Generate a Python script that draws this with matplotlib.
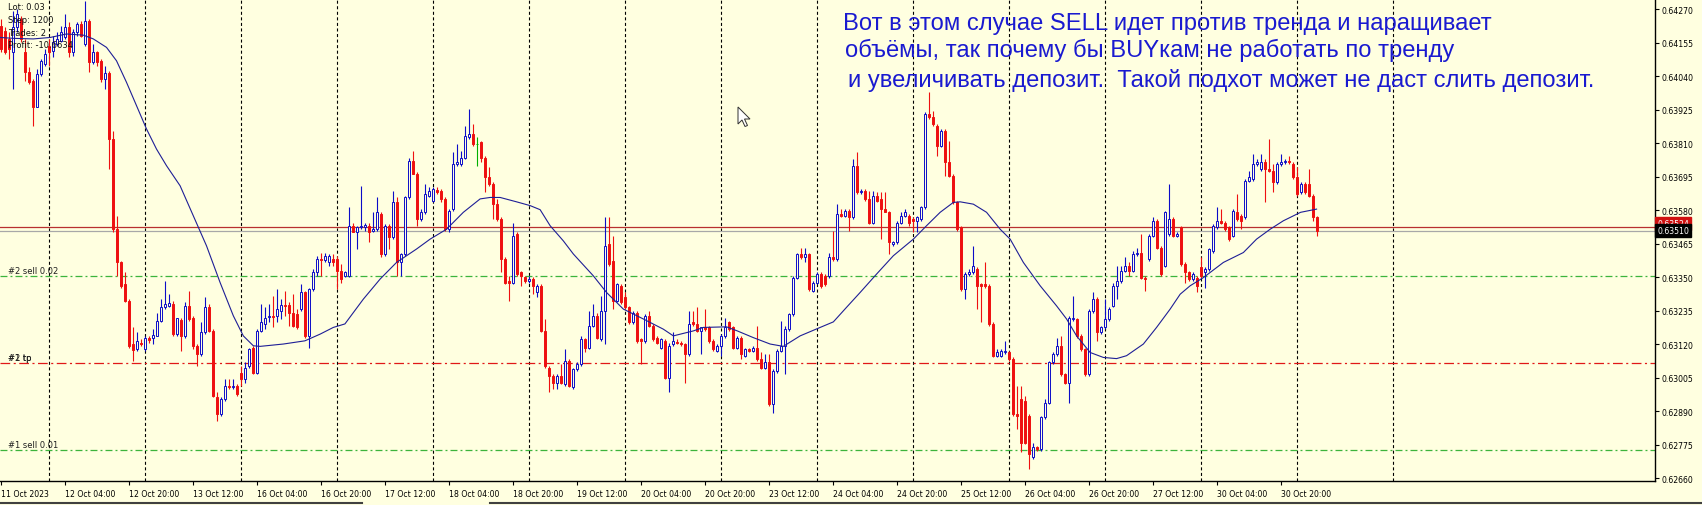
import matplotlib
matplotlib.use("Agg")
import matplotlib.pyplot as plt
from matplotlib.lines import Line2D
from matplotlib.patches import Polygon
import numpy as np

# --- H1 bars, 11 Oct 2023 12:00 .. 31 Oct 05:00 (bar index = position) ---
opens = [
    0.64213, 0.64196, 0.64168, 0.64122, 0.64208, 0.64236, 0.64122, 0.64053, 0.64025, 0.63936,
    0.64048, 0.64082, 0.64145, 0.64128, 0.64151, 0.64162, 0.64173, 0.64208, 0.64122, 0.64191,
    0.64219, 0.64151, 0.64231, 0.64088, 0.64122, 0.64093, 0.64030, 0.64051, 0.63824, 0.63515,
    0.63401, 0.63327, 0.63269, 0.63121, 0.63103, 0.63126, 0.63103, 0.63140, 0.63143, 0.63149,
    0.63201, 0.63247, 0.63252, 0.63258, 0.63155, 0.63204, 0.63149, 0.63252, 0.63212, 0.63115,
    0.63086, 0.63161, 0.63247, 0.63166, 0.62938, 0.62880, 0.62932, 0.62978, 0.62972, 0.62978,
    0.63023, 0.63000, 0.63046, 0.63109, 0.63023, 0.63166, 0.63190, 0.63215, 0.63218, 0.63218,
    0.63235, 0.63255, 0.63255, 0.63229, 0.63224, 0.63241, 0.63298, 0.63149, 0.63309, 0.63367,
    0.63412, 0.63410, 0.63401, 0.63412, 0.63412, 0.63372, 0.63355, 0.63355, 0.63527, 0.63504,
    0.63521, 0.63521, 0.63527, 0.63510, 0.63515, 0.63567, 0.63430, 0.63527, 0.63487, 0.63607,
    0.63401, 0.63430, 0.63624, 0.63750, 0.63704, 0.63550, 0.63573, 0.63630, 0.63613, 0.63650,
    0.63647, 0.63619, 0.63515, 0.63584, 0.63739, 0.63739, 0.63761, 0.63830, 0.63842, 0.63807,
    0.63813, 0.63761, 0.63693, 0.63670, 0.63601, 0.63550, 0.63412, 0.63338, 0.63332, 0.63498,
    0.63367, 0.63350, 0.63338, 0.63344, 0.63298, 0.63321, 0.63166, 0.63040, 0.63012, 0.62989,
    0.63012, 0.62984, 0.63063, 0.62972, 0.63035, 0.63052, 0.63138, 0.63109, 0.63184, 0.63218,
    0.63138, 0.63235, 0.63464, 0.63407, 0.63269, 0.63321, 0.63281, 0.63247, 0.63195, 0.63229,
    0.63138, 0.63132, 0.63218, 0.63184, 0.63143, 0.63109, 0.63132, 0.63006, 0.63121, 0.63129,
    0.63126, 0.63121, 0.63086, 0.63195, 0.63190, 0.63166, 0.63178, 0.63178, 0.63132, 0.63098,
    0.63115, 0.63149, 0.63195, 0.63178, 0.63109, 0.63143, 0.63081, 0.63103, 0.63098, 0.63109,
    0.63069, 0.63040, 0.63058, 0.62915, 0.63029, 0.63098, 0.63115, 0.63172, 0.63224, 0.63349,
    0.63430, 0.63418, 0.63430, 0.63304, 0.63332, 0.63361, 0.63355, 0.63355, 0.63418, 0.63412,
    0.63567, 0.63561, 0.63578, 0.63556, 0.63733, 0.63641, 0.63647, 0.63619, 0.63538, 0.63630,
    0.63619, 0.63584, 0.63573, 0.63464, 0.63470, 0.63538, 0.63561, 0.63561, 0.63550, 0.63544,
    0.63550, 0.63590, 0.63910, 0.63899, 0.63870, 0.63802, 0.63853, 0.63744, 0.63699, 0.63607,
    0.63521, 0.63309, 0.63361, 0.63367, 0.63378, 0.63327, 0.63327, 0.63321, 0.63190, 0.63081,
    0.63081, 0.63092, 0.63092, 0.63069, 0.62880, 0.62932, 0.62926, 0.62875, 0.62732, 0.62766,
    0.62760, 0.62869, 0.62920, 0.63058, 0.63086, 0.63115, 0.63018, 0.62989, 0.63206, 0.63206,
    0.63149, 0.63103, 0.63018, 0.63235, 0.63275, 0.63161, 0.63178, 0.63206, 0.63252, 0.63321,
    0.63338, 0.63372, 0.63390, 0.63372, 0.63430, 0.63435, 0.63349, 0.63412, 0.63493, 0.63544,
    0.63452, 0.63390, 0.63498, 0.63550, 0.63493, 0.63521, 0.63395, 0.63367, 0.63344, 0.63349,
    0.63384, 0.63367, 0.63378, 0.63441, 0.63521, 0.63544, 0.63538, 0.63521, 0.63493, 0.63573,
    0.63561, 0.63556, 0.63681, 0.63687, 0.63739, 0.63721, 0.63744, 0.63721, 0.63716, 0.63676,
    0.63739, 0.63744, 0.63750, 0.63739, 0.63693, 0.63641, 0.63670, 0.63670, 0.63630, 0.63556,
]
highs = [
    0.64236, 0.64208, 0.64191, 0.64265, 0.64271, 0.64248, 0.64168, 0.64070, 0.64030, 0.64065,
    0.64099, 0.64133, 0.64168, 0.64179, 0.64191, 0.64214, 0.64254, 0.64225, 0.64202, 0.64225,
    0.64231, 0.64299, 0.64236, 0.64151, 0.64128, 0.64099, 0.64076, 0.64059, 0.63853, 0.63561,
    0.63407, 0.63367, 0.63275, 0.63178, 0.63161, 0.63138, 0.63149, 0.63149, 0.63172, 0.63229,
    0.63275, 0.63338, 0.63292, 0.63269, 0.63212, 0.63212, 0.63264, 0.63304, 0.63218, 0.63121,
    0.63195, 0.63281, 0.63258, 0.63172, 0.62955, 0.62938, 0.63000, 0.63000, 0.63000, 0.62984,
    0.63046, 0.63058, 0.63109, 0.63115, 0.63172, 0.63258, 0.63247, 0.63258, 0.63287, 0.63309,
    0.63275, 0.63304, 0.63264, 0.63292, 0.63241, 0.63327, 0.63304, 0.63315, 0.63378, 0.63424,
    0.63435, 0.63435, 0.63429, 0.63429, 0.63424, 0.63395, 0.63372, 0.63590, 0.63538, 0.63527,
    0.63664, 0.63538, 0.63538, 0.63573, 0.63624, 0.63573, 0.63533, 0.63533, 0.63647, 0.63624,
    0.63435, 0.63630, 0.63761, 0.63784, 0.63710, 0.63584, 0.63670, 0.63659, 0.63659, 0.63659,
    0.63653, 0.63624, 0.63584, 0.63779, 0.63807, 0.63784, 0.63870, 0.63927, 0.63876, 0.63830,
    0.63819, 0.63767, 0.63727, 0.63676, 0.63619, 0.63556, 0.63418, 0.63355, 0.63538, 0.63504,
    0.63372, 0.63355, 0.63355, 0.63350, 0.63327, 0.63327, 0.63206, 0.63046, 0.63018, 0.63018,
    0.63052, 0.63103, 0.63069, 0.63040, 0.63058, 0.63149, 0.63143, 0.63235, 0.63258, 0.63229,
    0.63287, 0.63556, 0.63556, 0.63493, 0.63332, 0.63327, 0.63298, 0.63252, 0.63235, 0.63235,
    0.63143, 0.63224, 0.63235, 0.63189, 0.63149, 0.63143, 0.63138, 0.63126, 0.63161, 0.63138,
    0.63132, 0.63126, 0.63235, 0.63235, 0.63247, 0.63178, 0.63241, 0.63184, 0.63138, 0.63121,
    0.63155, 0.63212, 0.63201, 0.63184, 0.63149, 0.63149, 0.63109, 0.63109, 0.63115, 0.63184,
    0.63092, 0.63086, 0.63086, 0.63035, 0.63103, 0.63201, 0.63184, 0.63229, 0.63355, 0.63435,
    0.63452, 0.63452, 0.63435, 0.63338, 0.63367, 0.63367, 0.63361, 0.63435, 0.63510, 0.63601,
    0.63584, 0.63584, 0.63584, 0.63756, 0.63779, 0.63653, 0.63653, 0.63647, 0.63647, 0.63641,
    0.63641, 0.63641, 0.63578, 0.63475, 0.63544, 0.63573, 0.63584, 0.63567, 0.63556, 0.63561,
    0.63596, 0.63916, 0.63985, 0.63922, 0.63876, 0.63859, 0.63859, 0.63819, 0.63704, 0.63613,
    0.63527, 0.63367, 0.63378, 0.63458, 0.63384, 0.63332, 0.63401, 0.63327, 0.63195, 0.63103,
    0.63103, 0.63132, 0.63098, 0.63075, 0.62978, 0.62978, 0.62943, 0.62880, 0.62783, 0.62772,
    0.62875, 0.62932, 0.63063, 0.63092, 0.63143, 0.63149, 0.63023, 0.63218, 0.63287, 0.63212,
    0.63155, 0.63109, 0.63241, 0.63298, 0.63281, 0.63184, 0.63275, 0.63247, 0.63332, 0.63390,
    0.63390, 0.63418, 0.63401, 0.63441, 0.63452, 0.63498, 0.63355, 0.63498, 0.63556, 0.63550,
    0.63458, 0.63578, 0.63670, 0.63556, 0.63504, 0.63527, 0.63401, 0.63372, 0.63367, 0.63355,
    0.63418, 0.63384, 0.63452, 0.63533, 0.63590, 0.63584, 0.63544, 0.63527, 0.63584, 0.63636,
    0.63567, 0.63687, 0.63716, 0.63773, 0.63756, 0.63773, 0.63756, 0.63824, 0.63739, 0.63744,
    0.63773, 0.63756, 0.63767, 0.63744, 0.63727, 0.63676, 0.63676, 0.63721, 0.63636, 0.63561,
]
lows = [
    0.64122, 0.64116, 0.64099, 0.63996, 0.64191, 0.64156, 0.64025, 0.64013, 0.63870, 0.63933,
    0.64042, 0.64076, 0.64076, 0.64105, 0.64145, 0.64156, 0.64168, 0.64105, 0.64110, 0.64179,
    0.64173, 0.64145, 0.64053, 0.64082, 0.64076, 0.64019, 0.63996, 0.63721, 0.63504, 0.63355,
    0.63315, 0.63264, 0.63109, 0.63063, 0.63098, 0.63115, 0.63098, 0.63126, 0.63121, 0.63147,
    0.63195, 0.63241, 0.63247, 0.63149, 0.63149, 0.63098, 0.63143, 0.63201, 0.63103, 0.63046,
    0.63081, 0.63155, 0.63161, 0.62938, 0.62857, 0.62875, 0.62926, 0.62966, 0.62966, 0.62943,
    0.62978, 0.62989, 0.63040, 0.63018, 0.63018, 0.63161, 0.63172, 0.63195, 0.63178, 0.63195,
    0.63206, 0.63218, 0.63184, 0.63178, 0.63172, 0.63235, 0.63143, 0.63109, 0.63304, 0.63355,
    0.63355, 0.63401, 0.63390, 0.63390, 0.63309, 0.63332, 0.63350, 0.63350, 0.63504, 0.63447,
    0.63515, 0.63510, 0.63470, 0.63504, 0.63510, 0.63418, 0.63424, 0.63447, 0.63481, 0.63355,
    0.63355, 0.63424, 0.63619, 0.63704, 0.63527, 0.63544, 0.63567, 0.63624, 0.63607, 0.63636,
    0.63607, 0.63510, 0.63504, 0.63578, 0.63733, 0.63733, 0.63756, 0.63825, 0.63802, 0.63733,
    0.63744, 0.63641, 0.63664, 0.63550, 0.63544, 0.63367, 0.63327, 0.63269, 0.63327, 0.63355,
    0.63321, 0.63332, 0.63332, 0.63292, 0.63281, 0.63161, 0.63040, 0.62955, 0.62966, 0.62966,
    0.62984, 0.62978, 0.62972, 0.62966, 0.63029, 0.63046, 0.63092, 0.63103, 0.63178, 0.63138,
    0.63132, 0.63121, 0.63390, 0.63241, 0.63264, 0.63258, 0.63241, 0.63189, 0.63189, 0.63126,
    0.63052, 0.63126, 0.63178, 0.63132, 0.63121, 0.63103, 0.63000, 0.62955, 0.63115, 0.63121,
    0.63115, 0.62989, 0.63081, 0.63184, 0.63161, 0.63086, 0.63166, 0.63126, 0.63098, 0.63092,
    0.63081, 0.63143, 0.63166, 0.63103, 0.63103, 0.63069, 0.63075, 0.63092, 0.63092, 0.63063,
    0.63035, 0.63035, 0.62909, 0.62886, 0.63023, 0.63092, 0.63018, 0.63166, 0.63218, 0.63344,
    0.63412, 0.63401, 0.63304, 0.63298, 0.63327, 0.63315, 0.63321, 0.63349, 0.63407, 0.63407,
    0.63556, 0.63556, 0.63510, 0.63550, 0.63636, 0.63636, 0.63613, 0.63532, 0.63532, 0.63607,
    0.63481, 0.63573, 0.63430, 0.63458, 0.63464, 0.63532, 0.63556, 0.63527, 0.63504, 0.63504,
    0.63544, 0.63584, 0.63893, 0.63870, 0.63767, 0.63796, 0.63699, 0.63693, 0.63601, 0.63510,
    0.63304, 0.63275, 0.63355, 0.63361, 0.63241, 0.63195, 0.63315, 0.63184, 0.63075, 0.63075,
    0.63075, 0.63086, 0.63063, 0.62875, 0.62829, 0.62749, 0.62777, 0.62692, 0.62726, 0.62755,
    0.62755, 0.62863, 0.62915, 0.63052, 0.63081, 0.63012, 0.62984, 0.62920, 0.63201, 0.63143,
    0.63098, 0.63012, 0.63012, 0.63229, 0.63132, 0.63155, 0.63172, 0.63201, 0.63247, 0.63275,
    0.63332, 0.63367, 0.63355, 0.63367, 0.63424, 0.63344, 0.63304, 0.63407, 0.63487, 0.63447,
    0.63355, 0.63384, 0.63493, 0.63487, 0.63487, 0.63390, 0.63332, 0.63338, 0.63338, 0.63298,
    0.63349, 0.63315, 0.63372, 0.63435, 0.63515, 0.63532, 0.63510, 0.63475, 0.63487, 0.63544,
    0.63515, 0.63550, 0.63676, 0.63681, 0.63733, 0.63716, 0.63607, 0.63710, 0.63641, 0.63670,
    0.63733, 0.63739, 0.63739, 0.63687, 0.63630, 0.63636, 0.63636, 0.63624, 0.63544, 0.63493,
]
closes = [
    0.64133, 0.64122, 0.64133, 0.64208, 0.64254, 0.64168, 0.64053, 0.64021, 0.63933, 0.64048,
    0.64093, 0.64116, 0.64122, 0.64156, 0.64168, 0.64191, 0.64208, 0.64122, 0.64191, 0.64219,
    0.64179, 0.64231, 0.64088, 0.64122, 0.64088, 0.64030, 0.64051, 0.63824, 0.63515, 0.63401,
    0.63321, 0.63269, 0.63115, 0.63101, 0.63132, 0.63121, 0.63140, 0.63135, 0.63152, 0.63201,
    0.63247, 0.63258, 0.63261, 0.63155, 0.63209, 0.63149, 0.63252, 0.63206, 0.63115, 0.63086,
    0.63161, 0.63247, 0.63166, 0.62943, 0.62880, 0.62932, 0.62978, 0.62972, 0.62978, 0.62949,
    0.63000, 0.63040, 0.63103, 0.63023, 0.63166, 0.63195, 0.63212, 0.63218, 0.63215, 0.63241,
    0.63255, 0.63252, 0.63229, 0.63184, 0.63178, 0.63298, 0.63149, 0.63309, 0.63367, 0.63412,
    0.63410, 0.63424, 0.63424, 0.63401, 0.63372, 0.63344, 0.63367, 0.63527, 0.63504, 0.63521,
    0.63527, 0.63529, 0.63504, 0.63515, 0.63573, 0.63430, 0.63527, 0.63487, 0.63607, 0.63401,
    0.63430, 0.63624, 0.63750, 0.63704, 0.63550, 0.63573, 0.63636, 0.63647, 0.63653, 0.63642,
    0.63619, 0.63515, 0.63578, 0.63739, 0.63744, 0.63761, 0.63836, 0.63842, 0.63807, 0.63807,
    0.63761, 0.63693, 0.63670, 0.63601, 0.63550, 0.63412, 0.63332, 0.63332, 0.63493, 0.63361,
    0.63355, 0.63338, 0.63344, 0.63321, 0.63321, 0.63166, 0.63046, 0.63012, 0.62989, 0.63012,
    0.62989, 0.63063, 0.62978, 0.63035, 0.63052, 0.63138, 0.63109, 0.63184, 0.63218, 0.63143,
    0.63235, 0.63458, 0.63395, 0.63269, 0.63327, 0.63264, 0.63247, 0.63195, 0.63229, 0.63132,
    0.63132, 0.63218, 0.63184, 0.63138, 0.63126, 0.63138, 0.63006, 0.63115, 0.63132, 0.63124,
    0.63121, 0.63086, 0.63190, 0.63190, 0.63166, 0.63178, 0.63172, 0.63132, 0.63103, 0.63115,
    0.63149, 0.63178, 0.63172, 0.63109, 0.63143, 0.63086, 0.63103, 0.63098, 0.63109, 0.63069,
    0.63040, 0.63058, 0.62915, 0.63029, 0.63098, 0.63115, 0.63172, 0.63224, 0.63349, 0.63430,
    0.63418, 0.63430, 0.63309, 0.63332, 0.63361, 0.63321, 0.63327, 0.63418, 0.63412, 0.63567,
    0.63561, 0.63578, 0.63556, 0.63733, 0.63641, 0.63647, 0.63619, 0.63538, 0.63630, 0.63613,
    0.63584, 0.63573, 0.63470, 0.63470, 0.63538, 0.63561, 0.63573, 0.63538, 0.63544, 0.63556,
    0.63590, 0.63910, 0.63899, 0.63876, 0.63802, 0.63853, 0.63744, 0.63699, 0.63607, 0.63515,
    0.63309, 0.63361, 0.63367, 0.63390, 0.63321, 0.63321, 0.63321, 0.63190, 0.63081, 0.63092,
    0.63098, 0.63098, 0.63069, 0.62880, 0.62875, 0.62783, 0.62783, 0.62743, 0.62766, 0.62760,
    0.62869, 0.62920, 0.63058, 0.63086, 0.63115, 0.63018, 0.62989, 0.63212, 0.63212, 0.63149,
    0.63103, 0.63018, 0.63235, 0.63275, 0.63161, 0.63178, 0.63206, 0.63241, 0.63321, 0.63338,
    0.63372, 0.63390, 0.63372, 0.63430, 0.63435, 0.63349, 0.63344, 0.63493, 0.63544, 0.63452,
    0.63361, 0.63573, 0.63550, 0.63493, 0.63498, 0.63395, 0.63367, 0.63344, 0.63361, 0.63321,
    0.63355, 0.63378, 0.63447, 0.63527, 0.63544, 0.63538, 0.63515, 0.63481, 0.63578, 0.63550,
    0.63544, 0.63681, 0.63693, 0.63739, 0.63744, 0.63744, 0.63721, 0.63716, 0.63676, 0.63739,
    0.63744, 0.63750, 0.63744, 0.63693, 0.63636, 0.63670, 0.63641, 0.63630, 0.63556, 0.63510,
]

# moving average (bar position, value)
ma_pos = [-0.3, 3, 8, 12.2, 16.3, 20.5, 23, 26.3, 28.8, 31.3,
          33.8, 36.3, 38.8, 41.3, 44.7, 48, 51.3, 54.7, 58, 60.5,
          63, 64.7, 70.5, 75.9, 79.7, 83, 85.9, 90.5, 94.7, 98.8,
          101.3, 103.8, 107.2, 111.3, 115.5, 119.7, 122.2, 124.7, 128.8, 132.2,
          134.7, 137.2, 140.5, 143, 148, 151.3, 155.5, 160.5, 165.5, 168,
          173, 175.5, 181.3, 184, 188, 192.2, 195.5, 199.7, 204.7, 208,
          211.3, 214.7, 218.8, 223, 228, 231.3, 234.7, 238, 239.7, 243,
          246.3, 249.7, 252.2, 255.5, 259.7, 263.8, 266.3, 268.8, 272.2, 275.5,
          278.8, 281.3, 285.5, 288.8, 292.2, 294.7, 297.2, 300.5, 305.5, 310.5,
          313.8, 317.2, 320.5, 324.8, 328.8]
ma_val = [0.64173, 0.64170, 0.64168, 0.64173, 0.64185, 0.64181, 0.64168, 0.64139, 0.64093, 0.64019,
          0.63939, 0.63859, 0.63790, 0.63733, 0.63664, 0.63561, 0.63458, 0.63332, 0.63218, 0.63149,
          0.63115, 0.63113, 0.63121, 0.63132, 0.63155, 0.63178, 0.63190, 0.63275, 0.63344, 0.63401,
          0.63424, 0.63447, 0.63481, 0.63515, 0.63573, 0.63619, 0.63624, 0.63624, 0.63609, 0.63596,
          0.63582, 0.63527, 0.63475, 0.63430, 0.63355, 0.63298, 0.63241, 0.63207, 0.63172, 0.63149,
          0.63166, 0.63178, 0.63180, 0.63166, 0.63143, 0.63121, 0.63113, 0.63149, 0.63178, 0.63197,
          0.63247, 0.63298, 0.63361, 0.63424, 0.63481, 0.63527, 0.63573, 0.63607, 0.63609, 0.63601,
          0.63573, 0.63515, 0.63481, 0.63401, 0.63321, 0.63252, 0.63207, 0.63149, 0.63092, 0.63075,
          0.63071, 0.63081, 0.63121, 0.63178, 0.63241, 0.63292, 0.63321, 0.63349, 0.63401, 0.63435,
          0.63481, 0.63515, 0.63544, 0.63573, 0.63584]

time_pos = [0, 16, 32, 48, 64, 80, 96, 112, 128, 144, 160, 176, 192, 208, 224, 240, 256, 272, 288, 304, 320]
time_lbl = ["11 Oct 2023", "12 Oct 04:00", "12 Oct 20:00", "13 Oct 12:00", "16 Oct 04:00",
            "16 Oct 20:00", "17 Oct 12:00", "18 Oct 04:00", "18 Oct 20:00", "19 Oct 12:00",
            "20 Oct 04:00", "20 Oct 20:00", "23 Oct 12:00", "24 Oct 04:00", "24 Oct 20:00",
            "25 Oct 12:00", "26 Oct 04:00", "26 Oct 20:00", "27 Oct 12:00", "30 Oct 04:00",
            "30 Oct 20:00"]
day_pos = [12, 36, 60, 84, 108, 132, 156, 180, 204, 228, 252, 276, 300, 324, 348]
price_ticks = [0.64270, 0.64155, 0.64040, 0.63925, 0.63810, 0.63695, 0.63580, 0.63465,
               0.63350, 0.63235, 0.63120, 0.63005, 0.62890, 0.62775, 0.62660]

sell2_level = 0.63353
tp_level = 0.63055
sell1_level = 0.62756
ask_price = 0.63524
bid_price = 0.63510

info_lines = ["Lot: 0.03", "Step: 1200", "Trades: 2", "Profit: -10.6634"]
note_lines = ["Вот в этом случае SELL идет против тренда и наращивает",
              "объёмы, так почему бы BUYкам не работать по тренду",
              "и увеличивать депозит.  Такой подхот может не даст слить депозит."]

BG = "#ffffe0"
BULL = "#0c0cc8"
BEAR = "#ee1010"
DOJI = "#00b000"
W, H = 1702, 506

plt.rcParams["lines.scale_dashes"] = False
plt.rcParams["font.family"] = "DejaVu Sans"

fig = plt.figure(figsize=(W / 100, H / 100), dpi=100, facecolor=BG)
ax = fig.add_axes([0, 1 - 482 / H, 1655 / W, 482 / H])
ax.set_facecolor(BG)
ax.set_xlim(-0.325, 413.4)
ax.set_ylim(0.62651, 0.64305)

o = np.array(opens)
hi = np.array(highs)
lo = np.array(lows)
c = np.array(closes)
idx = np.arange(len(o))
col = np.where(c > o, BULL, np.where(c < o, BEAR, DOJI))
face = np.where(c > o, BG, np.where(c < o, BEAR, DOJI))

# daily separators
for d in day_pos:
    ax.axvline(d, color="black", lw=0.8, ls=(0, (2.2, 1.8)), zorder=1)

# order lines
ax.axhline(sell2_level, color="#3cb43c", lw=0.9, ls=(0, (5, 2.2, 1.4, 2.2)), zorder=1.5)
ax.axhline(sell1_level, color="#3cb43c", lw=0.9, ls=(0, (5, 2.2, 1.4, 2.2)), zorder=1.5)
ax.axhline(tp_level, color="#e01818", lw=0.9, ls=(0, (7, 2.5, 1.5, 2.5)), zorder=1.5)
ax.axhline(ask_price, color="#b83030", lw=0.9, zorder=1.5)
ax.axhline(bid_price, color="#a8a8a8", lw=0.9, zorder=1.5)

for lvl, txt in [(sell2_level, "#2 sell 0.02"), (tp_level, "#1 tp"), (tp_level, "#2 tp"),
                 (sell1_level, "#1 sell 0.01")]:
    ax.annotate(txt, xy=(1.7, lvl), xytext=(0, 1.2), textcoords="offset points",
                fontsize=6, color="#202020", va="bottom", ha="left", zorder=6)

# candles
ax.vlines(idx, lo, hi, colors=col, lw=0.8, zorder=3)
ax.bar(idx, np.maximum(np.abs(c - o), 1e-7), bottom=np.minimum(o, c), width=0.55,
       color=face, edgecolor=col, linewidth=0.7, zorder=4)

ax.plot(ma_pos, ma_val, color="#1e1e96", lw=0.8, zorder=5)

# axes look
for s in ["top", "left"]:
    ax.spines[s].set_visible(False)
for s in ["right", "bottom"]:
    ax.spines[s].set_color("black")
    ax.spines[s].set_linewidth(1.0)

ax.yaxis.tick_right()
ax.set_yticks(price_ticks)
ax.set_yticklabels([f"{p:.5f}" for p in price_ticks])
ax.tick_params(axis="y", length=3, width=0.8, pad=2, labelsize=5.6, colors="black")
ax.set_xticks(time_pos)
ax.set_xticklabels(time_lbl, ha="left")
ax.tick_params(axis="x", length=3, width=0.8, pad=2.5, labelsize=5.6, colors="black")

ax.annotate(f"{ask_price:.5f}", xy=(1, ask_price), xycoords=("axes fraction", "data"),
            xytext=(1.5, 2), textcoords="offset points", va="center", ha="left",
            fontsize=5.6, color="white", annotation_clip=False, zorder=9,
            bbox=dict(boxstyle="square,pad=0.25", fc="#d01010", ec="#d01010"))
ax.annotate(f"{bid_price:.5f}", xy=(1, bid_price), xycoords=("axes fraction", "data"),
            xytext=(1.5, 0), textcoords="offset points", va="center", ha="left",
            fontsize=5.6, color="white", annotation_clip=False, zorder=10,
            bbox=dict(boxstyle="square,pad=0.25", fc="black", ec="black"))

# account info block
for k, t in enumerate(info_lines):
    fig.text(8 / W, 1 - (8 + 12.5 * k) / H, t, fontsize=6, color="#101010", va="center", ha="left")

# comment text
note_x = [843, 845, 848]
note_y = [24, 50, 81]
for t, x, y in zip(note_lines, note_x, note_y):
    fig.text(x / W, 1 - y / H, t, fontsize=17.1, color="#1a1ad0", va="center", ha="left",
             family=["Liberation Sans", "DejaVu Sans"])

# mouse pointer left on the chart
cur = np.array([(0, 0), (0, 17), (4, 13), (7, 19.5), (9.5, 18.5), (6.5, 12), (12, 12)])
tip = (738, 108)
fig.add_artist(Polygon([((tip[0] + dx) / W, 1 - (tip[1] + dy) / H) for dx, dy in cur],
                       closed=True, fc="white", ec="#303030", lw=0.7, transform=fig.transFigure))

# bottom border of the terminal window
fig.add_artist(Line2D([0, 362 / W], [1 - 504 / H] * 2, color="#404040", lw=1.5))
fig.add_artist(Line2D([490 / W, 1], [1 - 504 / H] * 2, color="#404040", lw=1.5))

fig.savefig("out.png", dpi=100, facecolor=BG)
